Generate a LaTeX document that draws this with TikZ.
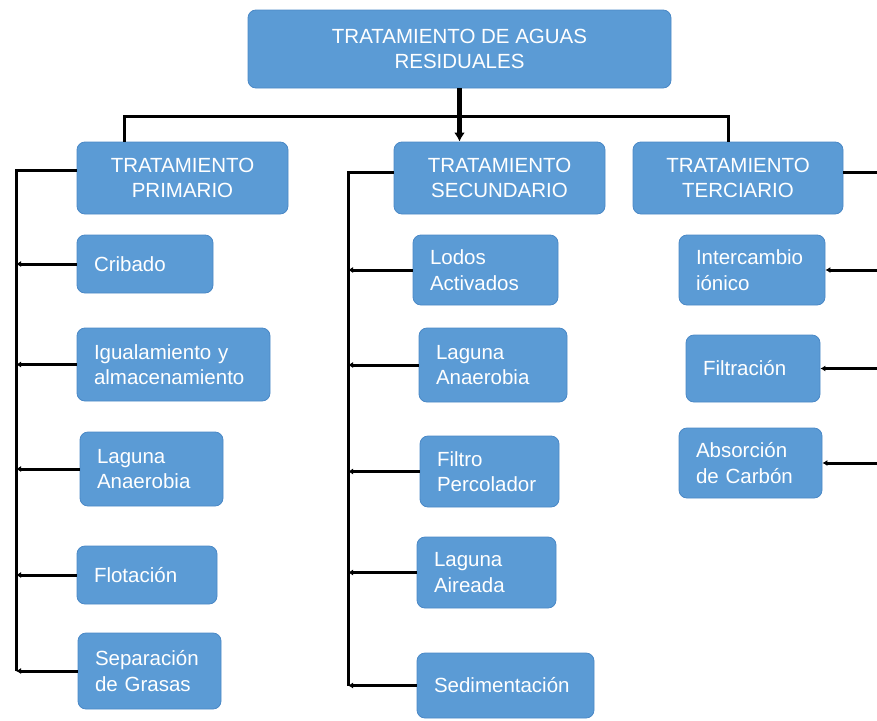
\documentclass[tikz,border=0pt]{standalone}
\usepackage{fontspec}
\setmainfont{Liberation Sans}
\usetikzlibrary{arrows.meta}
\usetikzlibrary{positioning}
\definecolor{boxblue}{HTML}{5B9BD5}
\definecolor{boxline}{HTML}{4A88C6}
\tikzset{%
    box/.style={draw=boxline, fill=boxblue, rounded corners=8pt, text=white, line width=0.8pt, font=\fontsize{20.5}{25.5}\selectfont},
    head/.style={box, align=center},
    leaf/.style={box, align=left, inner xsep=17pt},
    link/.style={line width=3pt},
    tip/.style={link, -{Latex[length=5pt,width=6pt]}},
}

\begin{document}
\begin{tikzpicture}[x=1pt,y=-1pt]
\useasboundingbox (0,0) rectangle (877,720);
\node[head, minimum width=423pt, minimum height=78pt] (root) at (459.5,49) {TRATAMIENTO DE AGUAS\\RESIDUALES};
\node[head, minimum width=211pt, minimum height=72pt] (n1) at (182.5,178) {TRATAMIENTO\\PRIMARIO};
\node[head, minimum width=211pt, minimum height=72pt] (n2) at (499.5,178) {TRATAMIENTO\\SECUNDARIO};
\node[head, minimum width=210pt, minimum height=72pt] (n3) at (738,178) {TRATAMIENTO\\TERCIARIO};
\node[leaf, text width=102pt, minimum height=58pt] (p1) at (145,264) {Cribado};
\node[leaf, text width=159pt, minimum height=73pt] (p2) at (173.5,364.5) {Igualamiento y\\almacenamiento};
\node[leaf, text width=109pt, minimum height=74pt] (p3) at (151.5,469) {Laguna\\Anaerobia};
\node[leaf, text width=106pt, minimum height=58pt] (p4) at (147,575) {Flotación};
\node[leaf, text width=109pt, minimum height=76pt] (p5) at (149.5,671) {Separación\\de Grasas};
\node[leaf, text width=111pt, minimum height=70pt] (s1) at (485.5,270) {Lodos\\Activados};
\node[leaf, text width=114pt, minimum height=74pt] (s2) at (493,365) {Laguna\\Anaerobia};
\node[leaf, text width=105pt, minimum height=71pt] (s3) at (489.5,471.5) {Filtro\\Percolador};
\node[leaf, text width=105pt, minimum height=71pt] (s4) at (486.5,572.5) {Laguna\\Aireada};
\node[leaf, text width=143pt, minimum height=65pt] (s5) at (505.5,685.5) {Sedimentación};
\node[leaf, text width=112pt, minimum height=70pt] (t1) at (752,270) {Intercambio\\iónico};
\node[leaf, text width=100pt, minimum height=67pt] (t2) at (753,368.5) {Filtración};
\node[leaf, text width=109pt, minimum height=70pt] (t3) at (750.5,463) {Absorción\\de Carbón};
\coordinate (busl) at (124,116);
\coordinate (busr) at (728,116);
\coordinate (cp) at (16,170);
\coordinate (cs) at (348,172);
\coordinate (ct) at (877,172);
\path (root.south) edge[link, line width=5pt, -{Latex[length=9pt,width=11pt]}] (root.south |- n2.north);
\draw[link] (busl |- n1.north) -- (busl) -- (busr) -- (busr |- n3.north);
\draw[link] (n1.west |- cp) -- (cp) -- (cp |- p5.west);
\draw[link] (n2.west |- cs) -- (cs) -- (cs |- s5.west);
\draw[link] (n3.east |- ct) -- (ct);
\foreach \i in {1,...,5} \draw[tip] (p\i.west) -- (p\i.west -| cp);
\foreach \i in {1,...,5} \draw[tip] (s\i.west) -- (s\i.west -| cs);
\foreach \i in {1,2,3} \draw[tip] (t\i.east -| ct) -- (t\i.east);
\end{tikzpicture}
\end{document}
